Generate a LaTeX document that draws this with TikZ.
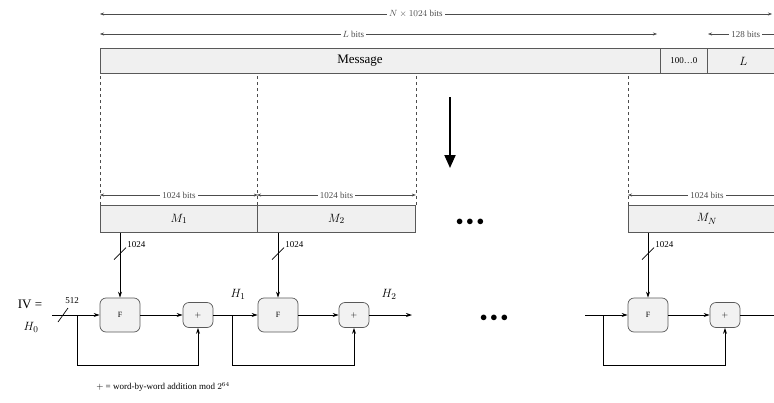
\documentclass[tikz,border=0pt]{standalone}
\usepackage{fontspec}
\setmainfont{Liberation Serif}
\usetikzlibrary{arrows.meta}

\begin{document}
\begin{tikzpicture}[x=1pt, y=-1pt,
    bar/.style={draw=gray!70!black, fill=gray!12, line width=0.8pt, minimum height=25pt,
                inner sep=0pt, anchor=north west, font=\fontsize{13}{13}\selectfont},
    fbox/.style={draw=gray!70!black, fill=gray!10, line width=0.7pt, rounded corners=6pt,
                 minimum width=40pt, minimum height=34pt, font=\fontsize{8}{8}\selectfont},
    addbox/.style={draw=gray!70!black, fill=gray!10, line width=0.7pt, rounded corners=6pt,
                   minimum width=30pt, minimum height=25pt, font=\fontsize{8}{8}\selectfont},
    flow/.style={-{Stealth[length=6pt,width=4pt]}, line width=0.8pt},
    span/.style={{Stealth[length=4pt,width=3pt]}-{Stealth[length=4pt,width=3pt]},
                 gray!60!black, line width=0.5pt},
    guide/.style={dashed, gray!60!black, line width=0.6pt},
    lbl/.style={font=\fontsize{9}{10}\selectfont, fill=white, inner sep=2pt},
    small/.style={font=\fontsize{9}{10}\selectfont, inner sep=1pt},
    ellip/.style={font=\fontsize{14}{14}\selectfont}
]
    \useasboundingbox (0,0) rectangle (774,402);
    \clip (0,0) rectangle (774,402);

    % === Padded message ===
    \draw[span] (100,14) -- (772,14) node[pos=0.47, lbl] {$N \times 1024$ bits};
    \draw[span] (100,34) -- (657,34) node[pos=0.455, lbl] {$L$ bits};
    \draw[span] (708,34) -- (790,34) node[pos=0.46, lbl] {128 bits};

    \node[bar, minimum width=560pt] (msg) at (100,48) {};
    \node[font=\fontsize{13}{13}\selectfont] (msgtxt) at (360,61) {Message};
    \node[bar, minimum width=47pt, font=\fontsize{9}{9}\selectfont] (pad) at (660,48) {100\ldots0};
    \node[bar, minimum width=72pt] (len) at (707,48) {$L$};

    \draw[-{Triangle[length=13pt,width=11pt]}, line width=2pt] (450,97) -- (450,168);

    % === Message blocks ===
    \node[bar, minimum width=157pt, minimum height=27pt] (m1) at (100,205) {$M_1$};
    \node[bar, minimum width=158pt, minimum height=27pt] (m2) at (257,205) {$M_2$};
    \node[bar, minimum width=157pt, minimum height=27pt] (mn) at (628,205) {$M_N$};
    \node[ellip] (dotsa) at (470,222) {$\bullet\bullet\bullet$};

    \foreach \blk in {m1, m2, mn}
        \draw[guide] (\blk.north west) -- (\blk.north west |- msg.south);
    \draw[guide] (m2.north east) -- (m2.north east |- msg.south);

    \foreach \blk in {m1, m2, mn}
        \draw[span] ([yshift=10pt]\blk.north west) -- ([yshift=10pt]\blk.north east)
            node[midway, lbl] {1024 bits};

    % === Compression chain ===
    \node[fbox] (f1) at (120,315) {F};
    \node[addbox] (a1) at (198,315) {$+$};
    \node[fbox] (f2) at (278,315) {F};
    \node[addbox] (a2) at (354,315) {$+$};
    \node[ellip] (dotsb) at (494,318) {$\bullet\bullet\bullet$};
    \node[fbox] (f3) at (648,315) {F};
    \node[addbox] (a3) at (725,315) {$+$};

    \coordinate (iv) at (52,315);
    \coordinate (j1) at (77,315);
    \coordinate (j2) at (232,315);
    \coordinate (out2) at (412,315);
    \coordinate (in3) at (585,315);
    \coordinate (j3) at (603,315);
    \coordinate (out3) at (790,315);

    \node[font=\fontsize{13}{13}\selectfont] (ivlbl) at (30,304) {IV =};
    \node[font=\fontsize{13}{13}\selectfont] (h0) at (31,327) {$H_0$};
    \node[small] (w512) at (72,301) {512};
    \node[font=\fontsize{13}{13}\selectfont] (h1) at (238,294) {$H_1$};
    \node[font=\fontsize{13}{13}\selectfont] (h2) at (389,294) {$H_2$};

    % block inputs, with bus width marks
    \foreach \blk/\fb in {m1/f1, m2/f2, mn/f3} {
        \draw[flow] (\blk.south -| \fb.north) -- coordinate[pos=0.32] (s\fb) (\fb.north);
        \draw[line width=0.7pt] ([shift={(-6pt,-6pt)}]s\fb) -- ([shift={(6pt,6pt)}]s\fb)
            node[small, anchor=west, yshift=3pt] {1024};
    }

    \draw[flow] (iv) -- (f1);
    \draw[line width=0.7pt] (58,322) -- (68,308);
    \draw[flow] (f1) -- (a1);
    \draw[flow] (a1) -- (f2);
    \draw[flow] (f2) -- (a2);
    \draw[flow] (a2) -- (out2);
    \draw[flow] (in3) -- (f3);
    \draw[flow] (f3) -- (a3);
    \draw[flow] (a3) -- (out3);

    % feedback to the adders
    \draw[flow] (j1) -- ++(0,50) -| (a1.south);
    \draw[flow] (j2) -- ++(0,50) -| (a2.south);
    \draw[flow] (j3) -- ++(0,50) -| (a3.south);

    \node[font=\fontsize{9}{10}\selectfont] (note) at (163,387)
        {$+$ = word-by-word addition mod $2^{64}$};
\end{tikzpicture}
\end{document}
